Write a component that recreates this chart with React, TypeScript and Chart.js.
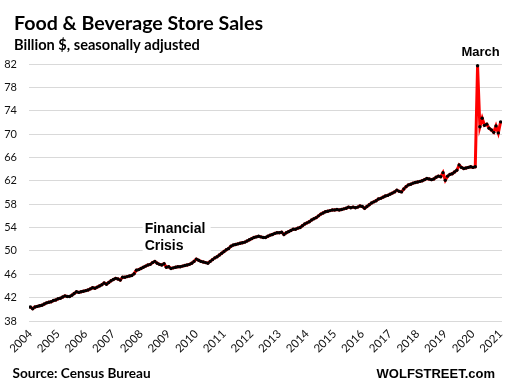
import React, { useEffect, useRef } from 'react';
import { Chart, registerables } from 'chart.js';

Chart.register(...registerables);

// Tick labels (one per January)
const YEAR_LABELS = ['2004', '2005', '2006', '2007', '2008', '2009', '2010', '2011', '2012', '2013', '2014', '2015', '2016', '2017', '2018', '2019', '2020', '2021'];
const Y_MIN = 38;
const Y_MAX = 82;
const Y_STEP = 4;

// Monthly sales, billion $, seasonally adjusted (Jan..Dec)
const V2004 = [40.4, 40.1, 40.4, 40.5, 40.6, 40.7, 40.9, 41.1, 41.2, 41.3, 41.5, 41.6];
const V2005 = [41.8, 41.9, 42.1, 42.3, 42.2, 42.2, 42.4, 42.7, 43.0, 42.9, 43.0, 43.1];
const V2006 = [43.2, 43.3, 43.5, 43.7, 43.6, 43.8, 44.0, 44.2, 44.5, 44.3, 44.6, 44.9];
const V2007 = [45.1, 45.3, 45.2, 45.0, 45.5, 45.5, 45.6, 45.7, 45.8, 46.1, 46.7, 46.8];
const V2008 = [47.0, 47.2, 47.4, 47.6, 47.7, 48.0, 48.2, 47.9, 47.7, 47.6, 47.8, 47.2];
const V2009 = [47.3, 47.0, 47.1, 47.2, 47.3, 47.3, 47.4, 47.5, 47.6, 47.7, 47.9, 48.2];
const V2010 = [48.6, 48.4, 48.2, 48.1, 48.0, 47.9, 48.2, 48.5, 48.8, 49.0, 49.3, 49.6];
const V2011 = [49.9, 50.2, 50.4, 50.8, 51.0, 51.1, 51.2, 51.3, 51.4, 51.5, 51.7, 51.9];
const V2012 = [52.1, 52.3, 52.4, 52.5, 52.4, 52.3, 52.3, 52.5, 52.7, 52.8, 53.0, 53.1];
const V2013 = [53.1, 53.2, 52.8, 53.1, 53.3, 53.5, 53.7, 53.7, 53.9, 54.0, 54.3, 54.6];
const V2014 = [54.8, 55.0, 55.3, 55.5, 55.7, 56.0, 56.3, 56.5, 56.7, 56.8, 56.9, 57.0];
const V2015 = [57.0, 57.1, 57.0, 57.1, 57.2, 57.3, 57.5, 57.4, 57.5, 57.4, 57.5, 57.7];
const V2016 = [57.6, 57.3, 57.6, 57.9, 58.2, 58.4, 58.6, 58.9, 59.0, 59.2, 59.4, 59.5];
const V2017 = [59.7, 59.9, 60.1, 60.4, 60.2, 60.1, 60.6, 61.0, 61.3, 61.4, 61.6, 61.7];
const V2018 = [61.8, 61.9, 62.0, 62.2, 62.4, 62.3, 62.2, 62.3, 62.6, 62.8, 62.7, 63.4];
const V2019 = [62.1, 62.8, 63.1, 63.2, 63.5, 63.8, 64.7, 64.3, 64.1, 64.2, 64.3, 64.4];
const V2020 = [64.3, 64.4, 81.7, 71.25, 72.7, 71.5, 71.7, 71.0, 70.7, 70.3, 71.4, 70.2];
const V2021 = [72.1];

const SALES = [
  ...V2004, ...V2005, ...V2006, ...V2007, ...V2008, ...V2009, ...V2010, ...V2011, ...V2012,
  ...V2013, ...V2014, ...V2015, ...V2016, ...V2017, ...V2018, ...V2019, ...V2020, ...V2021,
];

const MARCH_2020_INDEX = 16 * 12 + 2;
const CRISIS_INDEX = 50;

const textPlugin = {
  id: 'wolfText',
  afterDraw(chart: any) {
    const ctx = chart.ctx;
    const xs = chart.scales.x;
    const ys = chart.scales.y;
    ctx.save();
    ctx.fillStyle = '#000';
    ctx.textBaseline = 'alphabetic';

    ctx.textAlign = 'left';
    ctx.font = 'bold 19.6px Lato';
    ctx.fillText('Food & Beverage Store Sales', 14, 29.5);
    ctx.font = 'bold 14.6px Lato';
    ctx.fillText('Billion $, seasonally adjusted', 14, 49.5);

    // March annotation
    ctx.textAlign = 'center';
    ctx.font = 'bold 13px "Liberation Sans"';
    ctx.fillText('March', xs.getPixelForValue(MARCH_2020_INDEX) + 3, ys.top - 8);

    // Financial Crisis annotation with white box
    const cx = xs.getPixelForValue(CRISIS_INDEX) - 1;
    const cy = ys.getPixelForValue(53);
    ctx.fillStyle = '#fff';
    ctx.fillRect(cx - 2, cy - 14, 68, 36);
    ctx.fillStyle = '#000';
    ctx.textAlign = 'left';
    ctx.font = 'bold 14px "Liberation Sans"';
    ctx.fillText('Financial', cx, cy);
    ctx.fillText('Crisis', cx, cy + 16.5);

    // Footer
    ctx.font = 'bold 13.6px Lato';
    ctx.fillText('Source: Census Bureau', 12.5, 377.5);
    ctx.textAlign = 'right';
    ctx.font = 'bold 13px "Liberation Sans"';
    ctx.fillText('WOLFSTREET.com', 495, 377.5);
    ctx.restore();
  },
};

export default function App() {
  const canvasRef = useRef<HTMLCanvasElement | null>(null);

  useEffect(() => {
    document.body.style.margin = '0';
    const canvas = canvasRef.current;
    if (!canvas) return;
    const chart = new Chart(canvas, {
      type: 'line',
      data: {
        datasets: [
          {
            data: SALES.map((v, i) => ({ x: i, y: v })),
            borderColor: '#ff0000',
            borderWidth: 3,
            pointRadius: 1.7,
            pointBorderWidth: 0,
            pointBackgroundColor: '#000',
            pointHoverRadius: 1.7,
            tension: 0,
          },
        ],
      },
      options: {
        animation: false,
        responsive: false,
        devicePixelRatio: 1,
        layout: { padding: { top: 64, right: 3, left: 0, bottom: 0 } },
        plugins: { legend: { display: false }, tooltip: { enabled: false }, title: { display: false } },
        scales: {
          x: {
            type: 'linear',
            min: -0.6,
            max: SALES.length - 0.4,
            grid: { display: false, drawTicks: false },
            border: { display: false },
            ticks: {
              autoSkip: false,
              minRotation: 45,
              maxRotation: 45,
              padding: 6,
              color: '#111',
              font: { family: 'Lato', size: 11.5 },
              callback: (value: any) => YEAR_LABELS[Math.round(Number(value) / 12)] ?? '',
            },
            afterBuildTicks: (scale: any) => {
              scale.ticks = YEAR_LABELS.map((_, k) => ({ value: k * 12 }));
            },
            afterFit: (scale: any) => {
              scale.height = 67;
              scale.paddingLeft = 0;
              scale.paddingRight = 0;
            },
          },
          y: {
            min: Y_MIN,
            max: Y_MAX,
            grid: { color: '#d9d9d9', lineWidth: 1, drawTicks: false },
            border: { display: false },
            ticks: {
              stepSize: Y_STEP,
              padding: 12,
              color: '#111',
              font: { family: 'Lato', size: 11 },
            },
            afterFit: (scale: any) => {
              scale.width = 29;
            },
          },
        },
      },
      plugins: [textPlugin],
    });
    return () => chart.destroy();
  }, []);

  return (
    <div style={{ position: 'absolute', left: 0, top: 0, width: 505, height: 388, background: '#fff' }}>
      <canvas ref={canvasRef} width={505} height={388} />
    </div>
  );
}
